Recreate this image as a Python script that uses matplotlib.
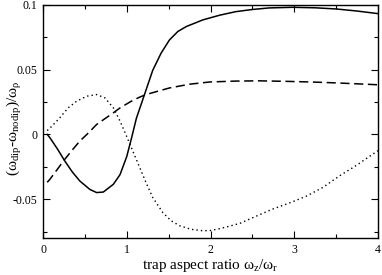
import matplotlib
matplotlib.use('Agg')
import matplotlib.pyplot as plt
from matplotlib.ticker import FixedLocator, MultipleLocator

plt.rcParams['font.family'] = 'Liberation Serif'
plt.rcParams['mathtext.fontset'] = 'custom'
plt.rcParams['mathtext.rm'] = 'Liberation Serif'
plt.rcParams['mathtext.it'] = 'Liberation Serif:italic'
plt.rcParams['axes.unicode_minus'] = False

# 实线
solid_x = [0.05, 0.083, 0.17, 0.26, 0.35, 0.44, 0.56, 0.64, 0.72, 0.84, 0.92, 1.0,
           1.06, 1.115, 1.21, 1.31, 1.41, 1.51, 1.61, 1.71, 1.91, 2.11, 2.3, 2.5,
           2.7, 2.98, 3.25, 3.5, 3.75, 4.0]
solid_y = [0.0, -0.0026, -0.011, -0.0205, -0.029, -0.036, -0.0425, -0.0449, -0.0445,
           -0.0385, -0.031, -0.017, -0.002, 0.0125, 0.0305, 0.0495, 0.0628, 0.073, 0.0795,
           0.0833, 0.0885, 0.0921, 0.0948, 0.0965, 0.0977, 0.0982, 0.0978, 0.0969,
           0.0953, 0.0933]

# 虚线
dash_x = [0.05, 0.083, 0.26, 0.35, 0.44, 0.54, 0.64, 0.84, 0.92, 1.05, 1.15, 1.23,
          1.35, 1.51, 1.75, 1.99, 2.3, 2.58, 2.9, 3.2, 3.5, 3.95, 4.0]
dash_y = [-0.037, -0.0346, -0.0192, -0.012, -0.0051, 0.001, 0.0077, 0.0167, 0.0205,
          0.0255, 0.0287, 0.0308, 0.033, 0.0359, 0.0388, 0.0405, 0.0412, 0.0414,
          0.041, 0.0405, 0.0398, 0.0385, 0.0383]

# 点线
dot_x = [0.05, 0.1, 0.2, 0.30, 0.40, 0.52, 0.64, 0.74, 0.84, 0.92, 0.98, 1.08,
         1.23, 1.31, 1.43, 1.53, 1.63, 1.77, 1.91, 2.0, 2.11, 2.2, 2.35, 2.54,
         2.74, 2.94, 3.14, 3.34, 3.54, 3.73, 4.0]
dot_y = [0.003, 0.006, 0.0128, 0.0205, 0.0256, 0.0295, 0.0308, 0.0282, 0.0205,
         0.0103, 0.0013, -0.0141, -0.0372, -0.0487, -0.0603, -0.0667, -0.0705,
         -0.0733, -0.0744, -0.0742, -0.0728, -0.0713, -0.0687, -0.0633, -0.0577,
         -0.053, -0.0478, -0.041, -0.032, -0.0244, -0.0125]

y_ticks = [-0.05, 0, 0.05, 0.1]
y_labels = ['-0.05', '0', '0.05', '0.1']
x_ticks = [0, 1, 2, 3, 4]
x_labels = ['0', '1', '2', '3', '4']

fig = plt.figure(figsize=(3.82, 2.75), dpi=100)
ax = fig.add_axes([0.1126, 0.1345, 0.877, 0.8475])

ax.plot(solid_x, solid_y, color='black', linewidth=1.1)
ax.plot(dash_x, dash_y, color='black', linewidth=1.1, dashes=(6, 3))
ax.plot(dot_x, dot_y, color='black', linewidth=1.0, dashes=(1, 2.2))

ax.set_xlim(0, 4)
ax.set_ylim(-0.08, 0.1)

ax.xaxis.set_major_locator(FixedLocator(x_ticks))
ax.set_xticklabels(x_labels)
ax.xaxis.set_minor_locator(MultipleLocator(0.5))
ax.yaxis.set_major_locator(FixedLocator(y_ticks))
ax.set_yticklabels(y_labels)
ax.yaxis.set_minor_locator(MultipleLocator(0.025))

ax.tick_params(which='both', direction='in', top=True, right=True, labelsize=8.5,
               width=0.8, pad=4)
ax.tick_params(which='major', length=5)
ax.tick_params(which='minor', length=3)
for s in ax.spines.values():
    s.set_linewidth(1.0)

ax.set_xlabel(r'trap aspect ratio ω$_\mathrm{z}$/ω$_\mathrm{r}$', fontsize=11)
ax.xaxis.set_label_coords(0.5, -0.082, transform=ax.transAxes)
ax.set_ylabel(r'(ω$_\mathrm{dip}$-ω$_\mathrm{nodip}$)/ω$_\mathrm{ρ}$', fontsize=11)
ax.yaxis.set_label_coords(-0.056, 0.47, transform=ax.transAxes)

fig.savefig('out.png', dpi=100)
